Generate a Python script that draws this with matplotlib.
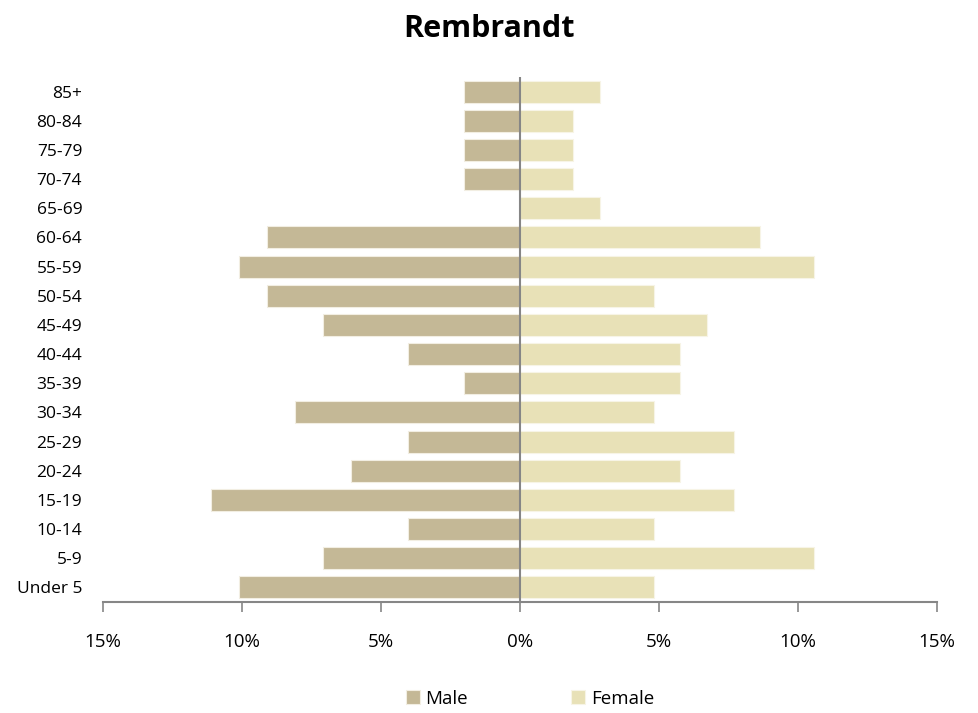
import matplotlib.pyplot as plt
from matplotlib.ticker import FuncFormatter

# faixas etárias (de baixo para cima)
ages = ["Under 5", "5-9", "10-14", "15-19", "20-24", "25-29", "30-34", "35-39",
        "40-44", "45-49", "50-54", "55-59", "60-64", "65-69", "70-74", "75-79",
        "80-84", "85+"]
male = [10.1, 7.07, 4.04, 11.11, 6.06, 4.04, 8.08, 2.02,
        4.04, 7.07, 9.09, 10.1, 9.09, 0, 2.02, 2.02, 2.02, 2.02]
female = [4.81, 10.58, 4.81, 7.69, 5.77, 7.69, 4.81, 5.77,
          5.77, 6.73, 4.81, 10.58, 8.65, 2.88, 1.92, 1.92, 1.92, 2.88]

plt.rcParams['font.family'] = ['Open Sans', 'DejaVu Sans']

fig = plt.figure(figsize=(9.79, 7.13), dpi=100)
ax = fig.add_axes([0.1052, 0.1557, 0.957 - 0.1052, 0.892 - 0.1557])

y = range(len(ages))
ax.barh(y, [-m for m in male], height=0.75, color="#C4B896",
        edgecolor="#F2EEE2", linewidth=0.8, label="Male")
ax.barh(y, female, height=0.75, color="#E8E1B7",
        edgecolor="#F7F4E6", linewidth=0.8, label="Female")

ax.set_xlim(-15, 15)
ax.set_ylim(-0.5, len(ages) - 0.5)
ax.set_xticks(range(-15, 16, 5))
ax.xaxis.set_major_formatter(FuncFormatter(lambda v, p: f"{abs(int(round(v)))}%"))
ax.set_yticks(list(y))
ax.set_yticklabels(ages)

for s in ["top", "right", "left"]:
    ax.spines[s].set_visible(False)
ax.spines["bottom"].set_color("#868686")
ax.spines["bottom"].set_linewidth(1.5)
ax.axvline(0, color="#868686", linewidth=1.5)

ax.tick_params(axis="x", direction="out", length=7, width=1.2, color="#868686",
               pad=15, labelsize=13.5)
ax.tick_params(axis="y", length=0, pad=15, labelsize=12.5)

fig.suptitle("Rembrandt", x=0.5, y=0.98, fontsize=22, fontweight="bold")

ax.legend(loc="upper center", bbox_to_anchor=(0.512, -0.135), ncol=2, frameon=False,
          fontsize=13.5, handlelength=0.75, handleheight=0.75, columnspacing=5.5,
          handletextpad=0.3)

plt.savefig("out.png", dpi=100)
